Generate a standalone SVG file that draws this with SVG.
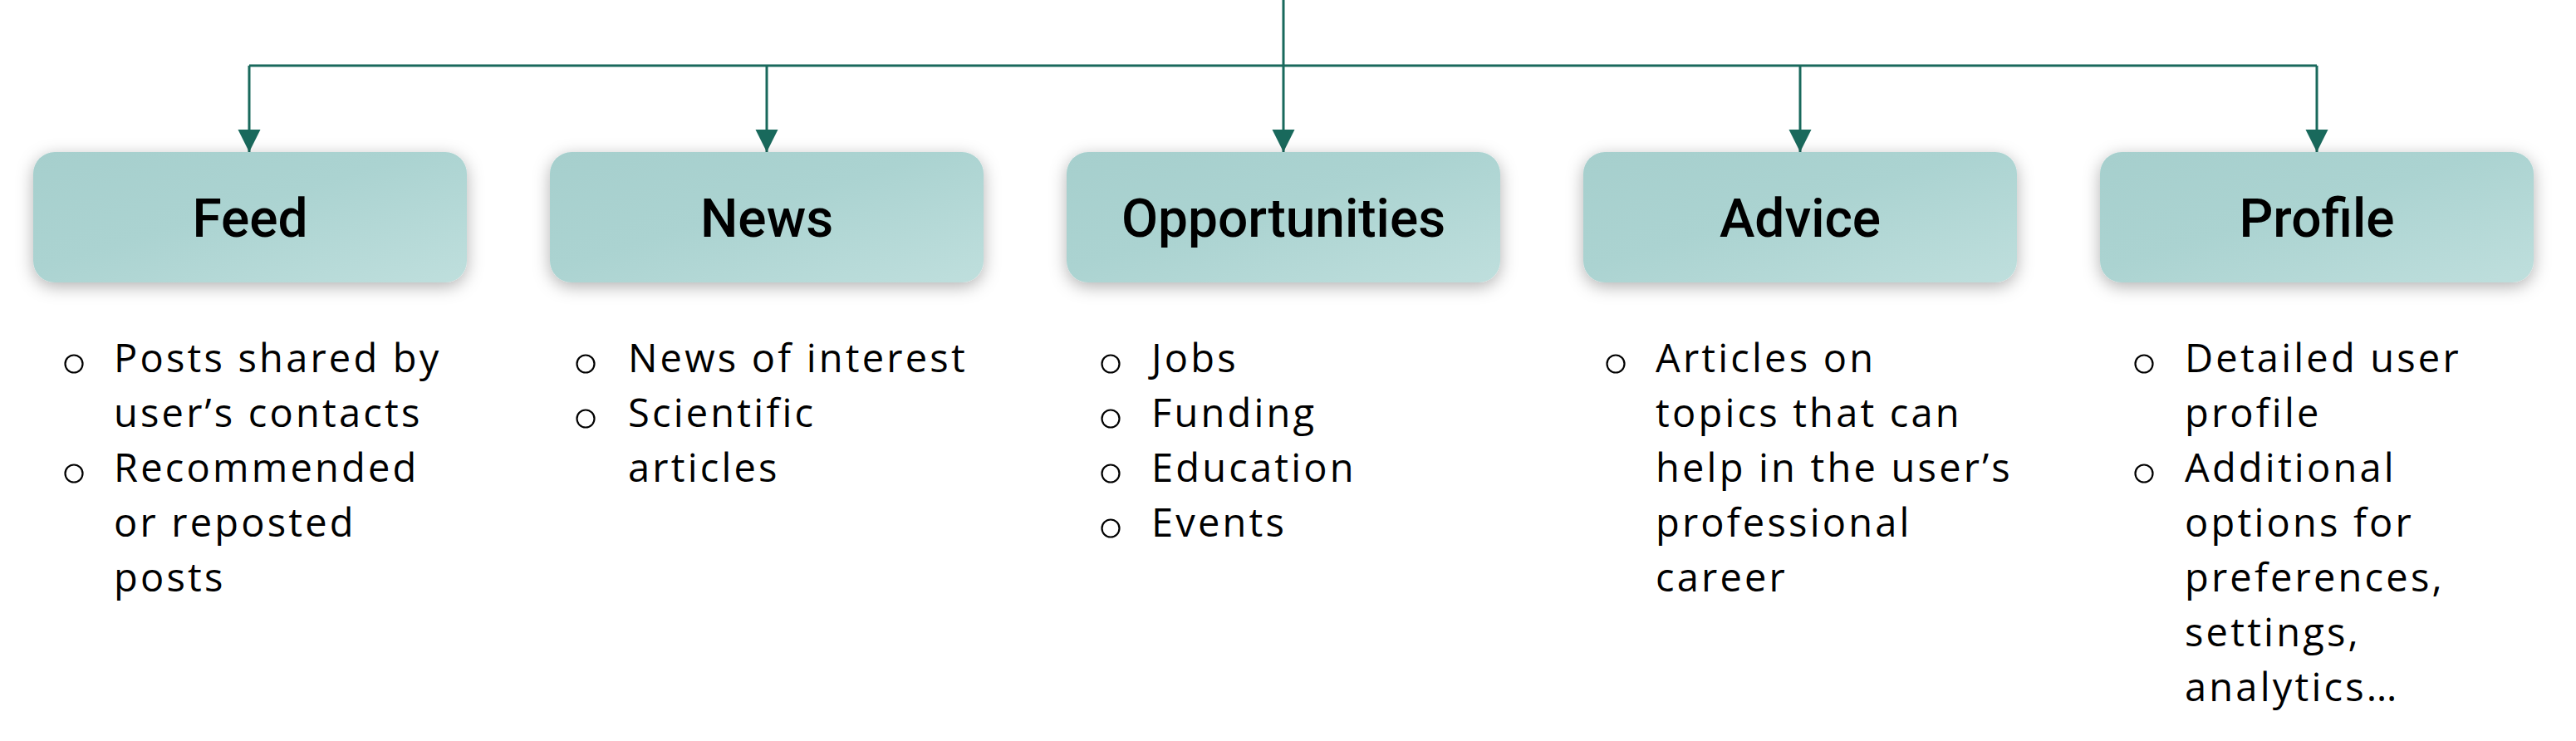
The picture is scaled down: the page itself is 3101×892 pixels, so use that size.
<svg xmlns="http://www.w3.org/2000/svg" width="3101" height="892" viewBox="0 0 3101 892">
<defs>
<linearGradient id="boxg" x1="0" y1="0" x2="1" y2="1">
<stop offset="0" stop-color="#A6CFCD"/>
<stop offset="0.45" stop-color="#ABD3D1"/>
<stop offset="1" stop-color="#BFDFDD"/>
</linearGradient>
<filter id="sh" x="-10%" y="-30%" width="120%" height="170%">
<feDropShadow dx="0" dy="5" stdDeviation="10" flood-color="#000" flood-opacity="0.3"/>
</filter>
<marker id="ah" markerUnits="userSpaceOnUse" markerWidth="28" markerHeight="28" viewBox="0 0 28 28" refX="27" refY="14" orient="auto">
<path d="M0,0.5 L27,14 L0,27.5 Z" fill="#19695C"/>
</marker>
<style>
.box{fill:url(#boxg);filter:url(#sh)}
.title{font-family:Roboto,"Liberation Sans",sans-serif;font-weight:500;font-size:64px;fill:#000;text-anchor:middle}
.body{font-family:"Open Sans","Liberation Sans",sans-serif;font-size:47px;font-weight:500;letter-spacing:3.2px;fill:#000}
.bul{fill:none;stroke:#000;stroke-width:2.2}
.con{fill:none;stroke:#19695C;stroke-width:3}
</style>
</defs>
<rect width="3101" height="892" fill="#fff"/>
<g id="connectors">
<path class="con" d="M300,79 H2789"/>
<path class="con" d="M1545,0 V183" marker-end="url(#ah)"/>
<path class="con" d="M300,79 V183" marker-end="url(#ah)"/>
<path class="con" d="M923,79 V183" marker-end="url(#ah)"/>
<path class="con" d="M2167,79 V183" marker-end="url(#ah)"/>
<path class="con" d="M2789,79 V183" marker-end="url(#ah)"/>
</g>
<g id="feed">
<rect class="box" x="40" y="183" width="522" height="157" rx="26"/>
<text class="title" x="301" y="285">Feed</text>
<circle class="bul" cx="89" cy="438" r="10.5"/>
<circle class="bul" cx="89" cy="570" r="10.5"/>
<text class="body" x="137" y="448">Posts shared by</text>
<text class="body" x="137" y="514">user’s contacts</text>
<text class="body" x="137" y="580">Recommended</text>
<text class="body" x="137" y="646">or reposted</text>
<text class="body" x="137" y="712">posts</text>
</g>
<g id="news">
<rect class="box" x="662" y="183" width="522" height="157" rx="26"/>
<text class="title" x="923" y="285">News</text>
<circle class="bul" cx="705" cy="438" r="10.5"/>
<circle class="bul" cx="705" cy="504" r="10.5"/>
<text class="body" x="756" y="448">News of interest</text>
<text class="body" x="756" y="514">Scientific</text>
<text class="body" x="756" y="580">articles</text>
</g>
<g id="opportunities">
<rect class="box" x="1284" y="183" width="522" height="157" rx="26"/>
<text class="title" x="1545" y="285">Opportunities</text>
<circle class="bul" cx="1337" cy="438" r="10.5"/>
<circle class="bul" cx="1337" cy="504" r="10.5"/>
<circle class="bul" cx="1337" cy="570" r="10.5"/>
<circle class="bul" cx="1337" cy="636" r="10.5"/>
<text class="body" x="1386" y="448">Jobs</text>
<text class="body" x="1386" y="514">Funding</text>
<text class="body" x="1386" y="580">Education</text>
<text class="body" x="1386" y="646">Events</text>
</g>
<g id="advice">
<rect class="box" x="1906" y="183" width="522" height="157" rx="26"/>
<text class="title" x="2167" y="285">Advice</text>
<circle class="bul" cx="1945" cy="438" r="10.5"/>
<text class="body" x="1993" y="448">Articles on</text>
<text class="body" x="1993" y="514">topics that can</text>
<text class="body" x="1993" y="580">help in the user’s</text>
<text class="body" x="1993" y="646">professional</text>
<text class="body" x="1993" y="712">career</text>
</g>
<g id="profile">
<rect class="box" x="2528" y="183" width="522" height="157" rx="26"/>
<text class="title" x="2789" y="285">Profile</text>
<circle class="bul" cx="2581" cy="438" r="10.5"/>
<circle class="bul" cx="2581" cy="570" r="10.5"/>
<text class="body" x="2630" y="448">Detailed user</text>
<text class="body" x="2630" y="514">profile</text>
<text class="body" x="2630" y="580">Additional</text>
<text class="body" x="2630" y="646">options for</text>
<text class="body" x="2630" y="712">preferences,</text>
<text class="body" x="2630" y="778">settings,</text>
<text class="body" x="2630" y="844">analytics…</text>
</g>
</svg>
